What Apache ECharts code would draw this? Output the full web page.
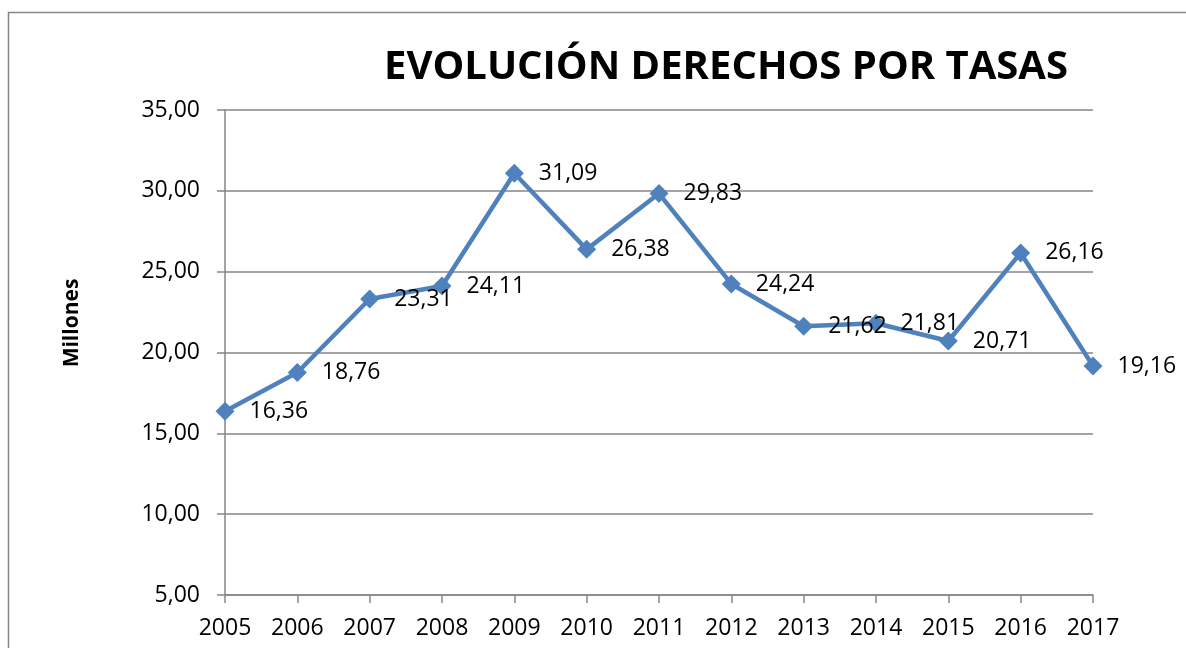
<!DOCTYPE html>
<html>
<head>
<meta charset="utf-8">
<script src="https://cdn.jsdelivr.net/npm/echarts@6/dist/echarts.min.js"></script>
<style>
  html, body { margin: 0; padding: 0; background: #fff; }
  #main { width: 1186px; height: 648px; }
</style>
</head>
<body>
<div id="main"></div>
<script>
// datos del grafico
var years = ['2005', '2006', '2007', '2008', '2009', '2010', '2011', '2012', '2013', '2014', '2015', '2016', '2017'];
var derechos = [16.36, 18.76, 23.31, 24.11, 31.09, 26.38, 29.83, 24.24, 21.62, 21.81, 20.71, 26.16, 19.16];

var font = '"Open Sans", "Liberation Sans", sans-serif';
var myChart = echarts.init(document.getElementById('main'));

function coma(v) {
    return v.toFixed(2).replace('.', ',');
}

var option = {
    animation: false,
    title: {
        text: 'EVOLUCIÓN DERECHOS POR TASAS',
        left: 721,
        top: 43,
        textAlign: 'center',
        textStyle: { fontFamily: font, fontSize: 40, fontWeight: 'bold', color: '#000' }
    },
    graphic: [{
        type: 'rect',
        shape: { x: 8.5, y: 12.5, width: 1300, height: 800 },
        style: { fill: 'none', stroke: '#868686', lineWidth: 1.5 },
        silent: true
    }, {
        // titulo del eje vertical
        type: 'text',
        x: 72,
        y: 323,
        rotation: Math.PI / 2,
        style: {
            text: 'Millones',
            fontFamily: font, fontSize: 21, fontWeight: 'bold', fill: '#000',
            align: 'center', verticalAlign: 'middle'
        },
        silent: true
    }],
    grid: { left: 225, right: 93, top: 110, bottom: 53 },
    xAxis: {
        type: 'category',
        data: years,
        boundaryGap: false,
        axisLine: { lineStyle: { color: '#868686', width: 1.5 } },
        axisTick: { length: 8, lineStyle: { color: '#868686', width: 1.5 } },
        axisLabel: { fontFamily: font, fontSize: 23, color: '#000', margin: 22 },
        splitLine: { show: false }
    },
    yAxis: {
        type: 'value',
        min: 5,
        max: 35,
        interval: 5,
        axisLine: { show: true, lineStyle: { color: '#868686', width: 1.5 } },
        axisTick: { show: true, length: 8, lineStyle: { color: '#868686', width: 1.5 } },
        axisLabel: {
            fontFamily: font, fontSize: 23, color: '#000', margin: 25,
            formatter: function (v) { return coma(v); }
        },
        splitLine: { lineStyle: { color: '#868686', width: 1.5 } }
    },
    series: [{
        name: 'Derechos',
        type: 'line',
        data: derechos,
        symbol: 'diamond',
        symbolSize: 19,
        lineStyle: { color: '#4f81bd', width: 4.5 },
        itemStyle: { color: '#4f81bd' },
        label: {
            show: true,
            position: 'right',
            distance: 15,
            fontFamily: font,
            fontSize: 23,
            color: '#000',
            formatter: function (p) { return coma(p.value); }
        }
    }]
};
myChart.setOption(option);
</script>
</body>
</html>
